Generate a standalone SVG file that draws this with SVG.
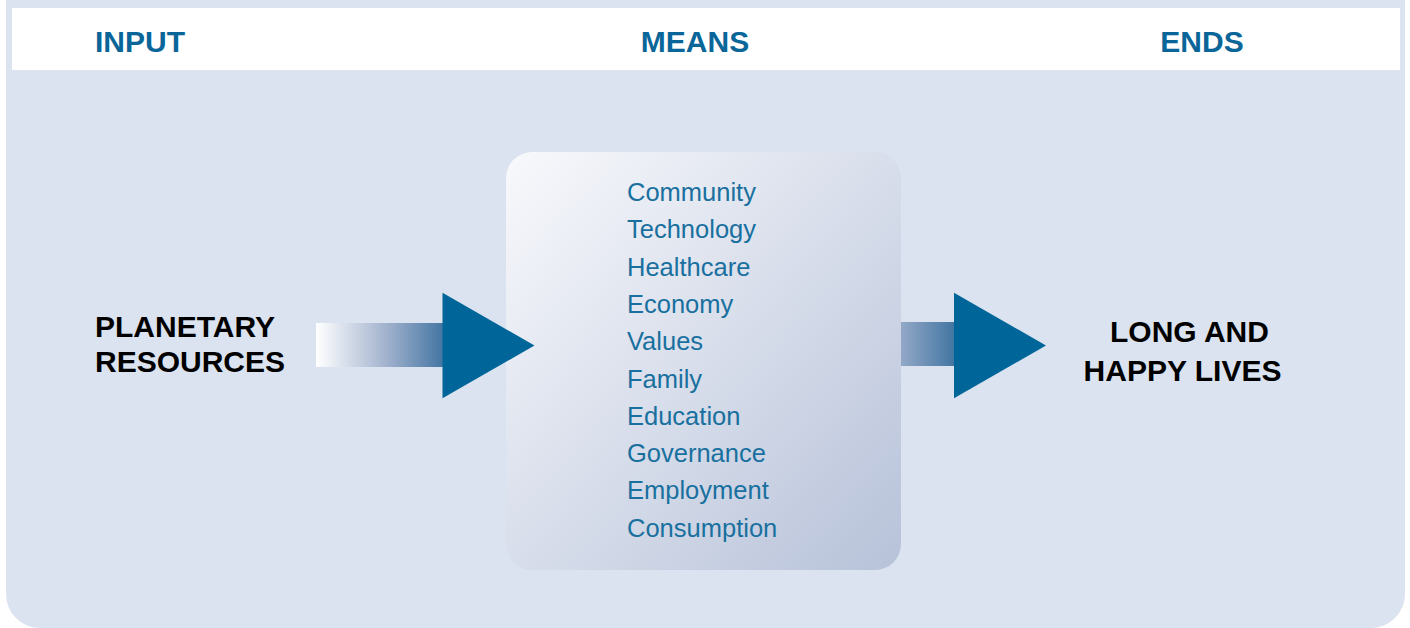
<svg xmlns="http://www.w3.org/2000/svg" width="1410" height="628" viewBox="0 0 1410 628">
  <style>
    .hdr { font-family: "Liberation Sans", Arial, sans-serif; font-weight: bold; font-size: 30px; fill: #0a6699; }
    .big { font-family: "Liberation Sans", Arial, sans-serif; font-weight: bold; font-size: 30px; fill: #000000; }
    .item { font-family: "Liberation Sans", Arial, sans-serif; font-size: 25.5px; fill: #19709f; }
    .head { fill: #006699; }
  </style>
  <defs>
    <linearGradient id="boxGrad" x1="0" y1="0" x2="1" y2="1">
      <stop offset="0" stop-color="#f8f9fc"/>
      <stop offset="1" stop-color="#b7c2d9"/>
    </linearGradient>
    <linearGradient id="shaftL" gradientUnits="userSpaceOnUse" x1="316" y1="0" x2="455" y2="0">
      <stop offset="0" stop-color="#ffffff"/>
      <stop offset="0.5" stop-color="#a3b3ce"/>
      <stop offset="1" stop-color="#30699a"/>
    </linearGradient>
    <linearGradient id="shaftR" gradientUnits="userSpaceOnUse" x1="901" y1="0" x2="967" y2="0">
      <stop offset="0" stop-color="#93a8c7"/>
      <stop offset="1" stop-color="#2f6a99"/>
    </linearGradient>
  </defs>
  <rect x="0" y="0" width="1410" height="628" fill="#ffffff"/>
  <rect x="6" y="-40" width="1399" height="668" rx="34" ry="34" fill="#dae3ef"/>
  <rect x="12" y="8" width="1388" height="62" fill="#ffffff"/>

  <g id="header-input"><text class="hdr" x="95" y="52">INPUT</text></g>
  <g id="header-means"><text class="hdr" x="695" y="52" text-anchor="middle">MEANS</text></g>
  <g id="header-ends"><text class="hdr" x="1202" y="52" text-anchor="middle">ENDS</text></g>

  <g id="input">
    <text class="big" x="95" y="337">PLANETARY</text>
    <text class="big" x="95" y="372">RESOURCES</text>
  </g>

  <g id="means">
    <rect x="506" y="152" width="395" height="418" rx="26" ry="26" fill="url(#boxGrad)"/>
    <text class="item" x="627" y="201">Community</text>
    <text class="item" x="627" y="238.3">Technology</text>
    <text class="item" x="627" y="275.6">Healthcare</text>
    <text class="item" x="627" y="312.9">Economy</text>
    <text class="item" x="627" y="350.2">Values</text>
    <text class="item" x="627" y="387.5">Family</text>
    <text class="item" x="627" y="424.8">Education</text>
    <text class="item" x="627" y="462.1">Governance</text>
    <text class="item" x="627" y="499.4">Employment</text>
    <text class="item" x="627" y="536.7">Consumption</text>
  </g>

  <g id="ends">
    <text class="big" x="1189.5" y="342" text-anchor="middle">LONG AND</text>
    <text class="big" x="1182.5" y="381" text-anchor="middle">HAPPY LIVES</text>
  </g>

  <g id="connectors">
    <g id="arrow-left">
      <rect x="316" y="323" width="139" height="44" fill="url(#shaftL)"/>
      <polygon class="head" points="442.5,292.7 534.5,345.5 442.5,398.3"/>
    </g>
    <g id="arrow-right">
      <rect x="901" y="322" width="66" height="44" fill="url(#shaftR)"/>
      <polygon class="head" points="954,292.7 1046,345.5 954,398.3"/>
    </g>
  </g>
</svg>
